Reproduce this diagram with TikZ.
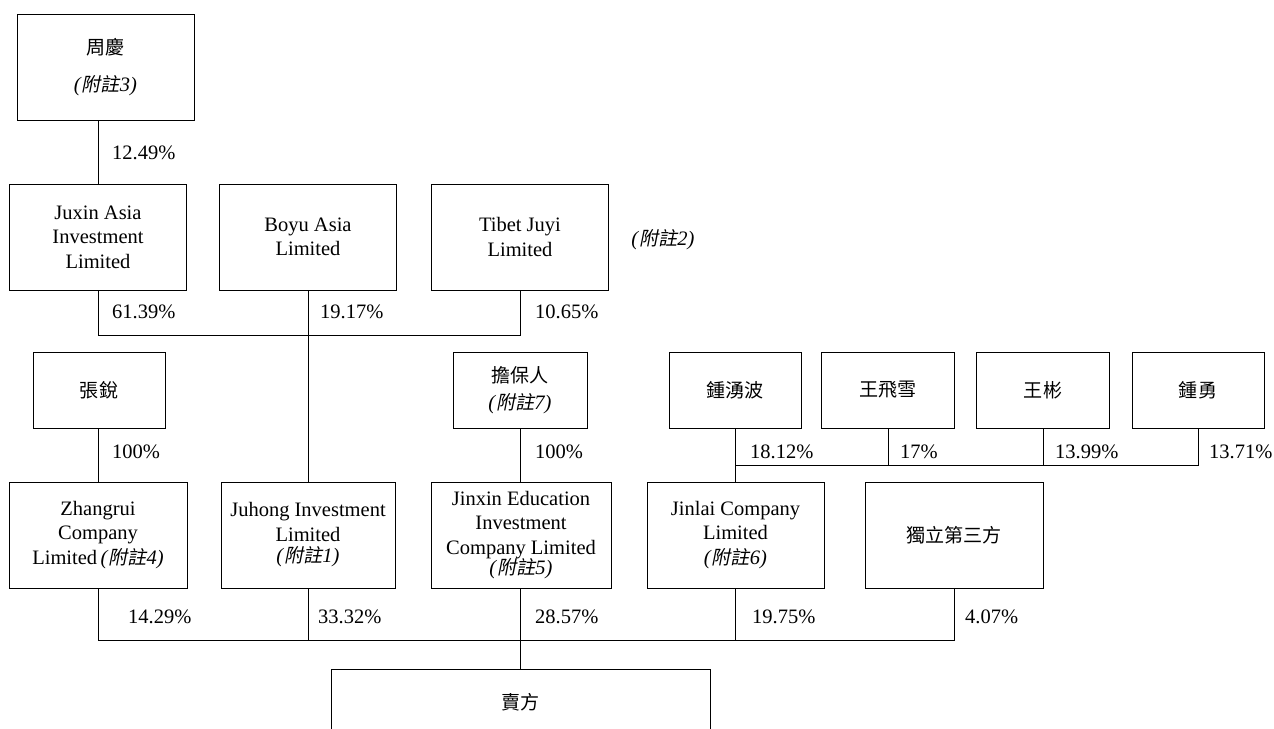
\documentclass[tikz,border=0pt]{standalone}
\usepackage{fontspec}
\setmainfont{Liberation Serif}
\newfontfamily\cjk{Noto Sans CJK TC}[Scale=0.93]
\newfontfamily\cjkit{Noto Sans CJK TC}[Scale=0.93,FakeSlant=0.2]
\newcommand\fuzhu[1]{\textit{(}{\cjkit 附註}\textit{#1)}}

\begin{document}
\begin{tikzpicture}[x=1pt, y=-1pt,
  every node/.style = {font=\fontsize{20.5}{24.5}\selectfont},
  box/.style = {draw, line width=0.8pt, align=center, inner sep=0pt,
    minimum width=177pt, minimum height=106pt},
  small/.style = {box, minimum width=132pt, minimum height=76pt},
  pct/.style = {anchor=west, inner sep=0pt},
  conn/.style = {line width=0.8pt}]
  \useasboundingbox (0,0) rectangle (1274,728);

  % top holders
  \node[box] (zhou) at (105.5,67) {{\cjk 周慶}\\[12pt]\fuzhu{3}};
  \node[box] (juxin) at (98,237) {Juxin Asia\\Investment\\Limited};
  \node[box] (boyu) at (308,237) {Boyu Asia\\Limited};
  \node[box] (tibet) at (520,237) {Tibet Juyi\\Limited};
  \node (note2) at (663,240) {\fuzhu{2}};

  % individuals
  \node[small] (zhang) at (99,390) {\cjk 張銳};
  \node[small, minimum width=134pt] (danbao) at (520,390) {{\cjk 擔保人}\\[2pt]\fuzhu{7}};
  \node[small] (zhongyb) at (735,390) {\cjk 鍾湧波};
  \node[small, minimum width=133pt] (wangfx) at (888,390) {\cjk 王飛雪};
  \node[small, minimum width=133pt] (wangb) at (1043,390) {\cjk 王彬};
  \node[small] (zhongy) at (1198,390) {\cjk 鍾勇};

  % companies
  \node[box, minimum width=178pt] (zhangrui) at (98,535) {Zhangrui\\Company\\Limited\,\fuzhu{4}};
  \node[box, minimum width=174pt] (juhong) at (308,535) {Juhong Investment\\Limited\\[-3pt]\fuzhu{1}};
  \node[box, minimum width=180pt] (jinxin) at (521,535) {Jinxin Education\\Investment\\Company Limited\\[-4pt]\fuzhu{5}};
  \node[box] (jinlai) at (735.5,535) {Jinlai Company\\Limited\\\fuzhu{6}};
  \node[box, minimum width=178pt] (indep) at (954,535) {\cjk 獨立第三方};

  \node[box, minimum width=379pt, minimum height=66pt] (seller) at (520.5,702) {\cjk 賣方};

  % connectors
  \draw[conn] (juxin.north) -- (juxin.north |- zhou.south);
  \draw[conn] (juxin.south) -- ++(0,45) -| (tibet.south);
  \draw[conn] (boyu.south) -- (juhong.north);
  \draw[conn] (zhangrui.north) -- (zhangrui.north |- zhang.south);
  \draw[conn] (danbao.south) -- (danbao.south |- jinxin.north);
  \draw[conn] (zhongyb.south) -- (zhongyb.south |- jinlai.north);
  \draw[conn] (zhongyb.south) -- ++(0,37) -| (zhongy.south);
  \draw[conn] (wangfx.south) -- ++(0,37);
  \draw[conn] (wangb.south) -- ++(0,37);
  \draw[conn] (zhangrui.south) -- ++(0,52) -| (indep.south);
  \draw[conn] (juhong.south) -- ++(0,52);
  \draw[conn] (jinlai.south) -- ++(0,52);
  \draw[conn] (danbao.south |- jinxin.south) -- (danbao.south |- seller.north);

  % shares
  \node[pct] (p1) at (112,153) {12.49\%};
  \node[pct] (p2) at (112,312) {61.39\%};
  \node[pct] (p3) at (320,312) {19.17\%};
  \node[pct] (p4) at (535,312) {10.65\%};
  \node[pct] (p5) at (112,452) {100\%};
  \node[pct] (p6) at (535,452) {100\%};
  \node[pct] (p7) at (750,452) {18.12\%};
  \node[pct] (p8) at (900,452) {17\%};
  \node[pct] (p9) at (1055,452) {13.99\%};
  \node[pct] (p10) at (1209,452) {13.71\%};
  \node[pct] (p11) at (128,617) {14.29\%};
  \node[pct] (p12) at (318,617) {33.32\%};
  \node[pct] (p13) at (535,617) {28.57\%};
  \node[pct] (p14) at (752,617) {19.75\%};
  \node[pct] (p15) at (965,617) {4.07\%};
\end{tikzpicture}
\end{document}
